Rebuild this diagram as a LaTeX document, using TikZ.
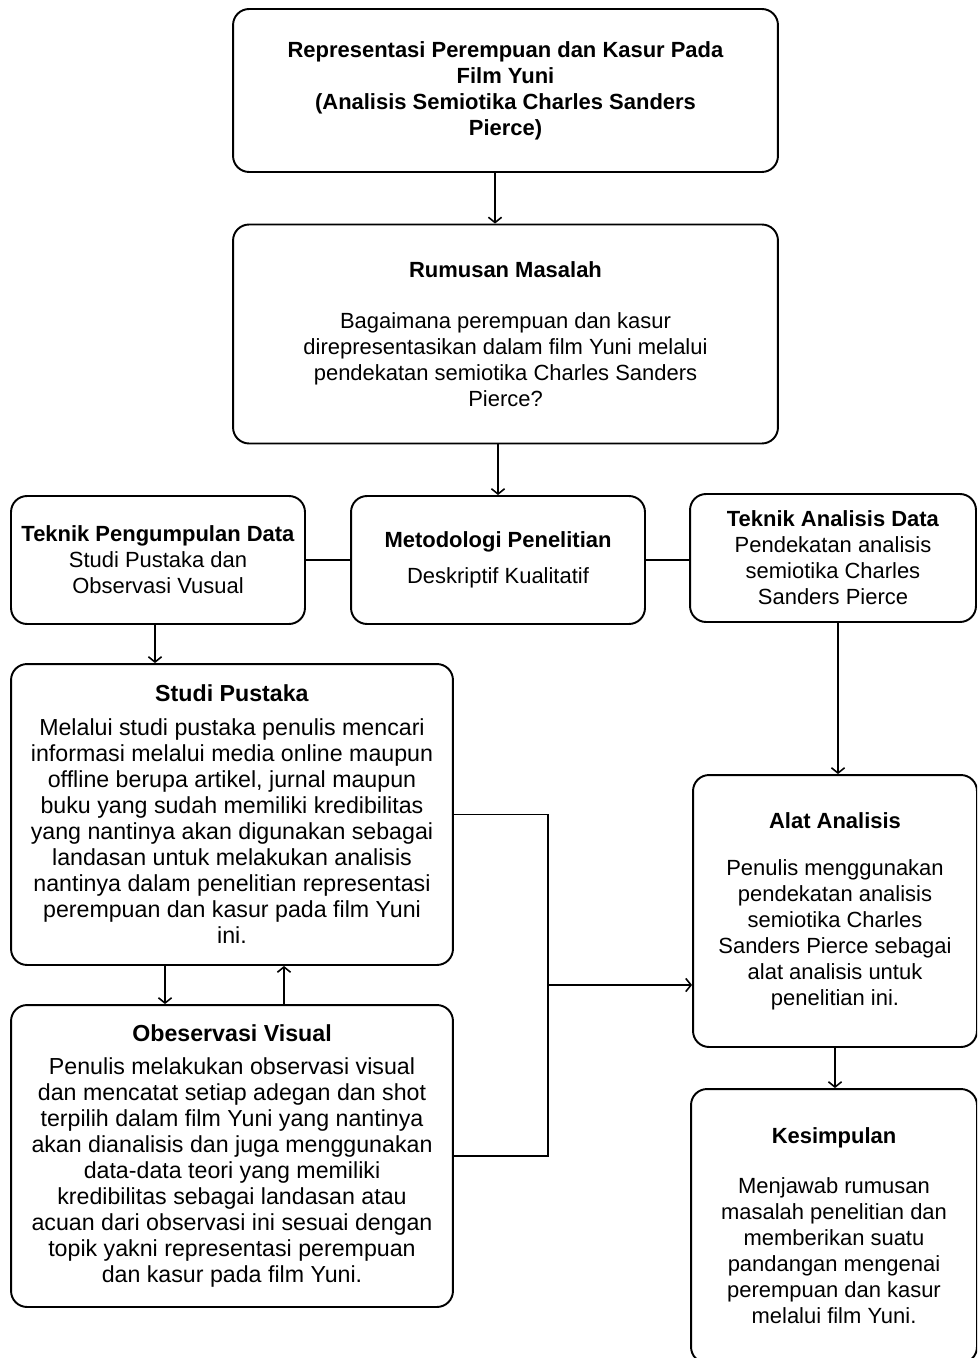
\documentclass[tikz,border=0pt]{standalone}
\usepackage{fontspec}
\setmainfont{Liberation Sans}
\usetikzlibrary{arrows.meta}
\begin{document}
\begin{tikzpicture}[x=0.02cm, y=-0.02cm,
  kotak/.style={draw, line width=1.1pt, rounded corners=0.32cm, align=center,
    inner sep=0pt, font=\fontsize{12.5}{14.8}\selectfont},
  lebar/.style={font=\fontsize{13.2}{14.8}\selectfont},
  panah/.style={-{Straight Barb[length=3pt,width=7.5pt]}, line width=0.9pt},
  garis/.style={line width=1.1pt}]
  \useasboundingbox (0,0) rectangle (977,1358);
  \clip (0,0) rectangle (977,1358);
  \node[kotak, minimum width=10.9cm, minimum height=3.26cm] (judul) at (505.5, 90.5)
    {\bfseries Representasi Perempuan dan Kasur Pada\\ \bfseries Film Yuni\\
     \bfseries (Analisis Semiotika Charles Sanders\\ \bfseries Pierce)};
  \node[kotak, minimum width=10.9cm, minimum height=4.38cm] (rumusan) at (505.5, 334)
    {\textbf{Rumusan Masalah}\\[0.5cm] Bagaimana perempuan dan kasur\\
     direpresentasikan dalam film Yuni melalui\\ pendekatan semiotika Charles Sanders\\ Pierce?};
  \node[kotak, minimum width=5.88cm, minimum height=2.56cm] (pengumpulan) at (158, 560)
    {\textbf{Teknik Pengumpulan Data}\\ Studi Pustaka dan\\ Observasi Vusual};
  \node[kotak, minimum width=5.88cm, minimum height=2.56cm] (metodologi) at (498, 560)
    {\textbf{Metodologi Penelitian}\\[0.2cm] Deskriptif Kualitatif};
  \node[kotak, minimum width=5.72cm, minimum height=2.56cm] (analisisdata) at (833, 558)
    {\textbf{Teknik Analisis Data}\\ Pendekatan analisis\\ semiotika Charles\\ Sanders Pierce};
  \node[kotak, lebar, minimum width=8.84cm, minimum height=6.02cm] (studi) at (232, 814.5)
    {\textbf{Studi Pustaka}\\[0.16cm] Melalui studi pustaka penulis mencari\\
     informasi melalui media online maupun\\ offline berupa artikel, jurnal maupun\\
     buku yang sudah memiliki kredibilitas\\ yang nantinya akan digunakan sebagai\\
     landasan untuk melakukan analisis\\ nantinya dalam penelitian representasi\\
     perempuan dan kasur pada film Yuni\\ ini.};
  \node[kotak, lebar, minimum width=8.84cm, minimum height=6.04cm] (observasi) at (232, 1156)
    {\textbf{Obeservasi Visual}\\[0.14cm] Penulis melakukan observasi visual\\
     dan mencatat setiap adegan dan shot\\ terpilih dalam film Yuni yang nantinya\\
     akan dianalisis dan juga menggunakan\\ data-data teori yang memiliki\\
     kredibilitas sebagai landasan atau\\ acuan dari observasi ini sesuai dengan\\
     topik yakni representasi perempuan\\ dan kasur pada film Yuni.};
  \node[kotak, minimum width=5.68cm, minimum height=5.44cm] (alat) at (835, 911)
    {\textbf{Alat Analisis}\\[0.42cm] Penulis menggunakan\\ pendekatan analisis\\
     semiotika Charles\\ Sanders Pierce sebagai\\ alat analisis untuk\\ penelitian ini.};
  \node[kotak, minimum width=5.72cm, minimum height=5.48cm] (kesimpulan) at (834, 1226)
    {\textbf{Kesimpulan}\\[0.48cm] Menjawab rumusan\\ masalah penelitian dan\\
     memberikan suatu\\ pandangan mengenai\\ perempuan dan kasur\\ melalui film Yuni.};
  \coordinate (temu) at (548, 985);
  \draw[panah] ([xshift=-0.21cm]judul.south) -- ([xshift=-0.21cm]rumusan.north);
  \draw[panah] (rumusan.south -| metodologi) -- (metodologi.north);
  \draw[garis] (pengumpulan.east) -- (metodologi.west);
  \draw[garis] (metodologi.east) -- (metodologi.east -| analisisdata.west);
  \draw[panah] ([xshift=-0.06cm]pengumpulan.south) -- ([xshift=-0.06cm]pengumpulan.south |- studi.north);
  \draw[panah] ([xshift=0.1cm]analisisdata.south) -- ([xshift=0.1cm]analisisdata.south |- alat.north);
  \draw[panah] ([xshift=-1.34cm]studi.south) -- ([xshift=-1.34cm]observasi.north);
  \draw[panah] ([xshift=1.04cm]observasi.north) -- ([xshift=1.04cm]studi.south);
  \draw[garis] (studi.east) -| (temu);
  \draw[garis] (observasi.east) -| (temu);
  \draw[panah] (temu) -- (temu -| alat.west);
  \draw[panah] (alat.south) -- (alat.south |- kesimpulan.north);
\end{tikzpicture}
\end{document}
